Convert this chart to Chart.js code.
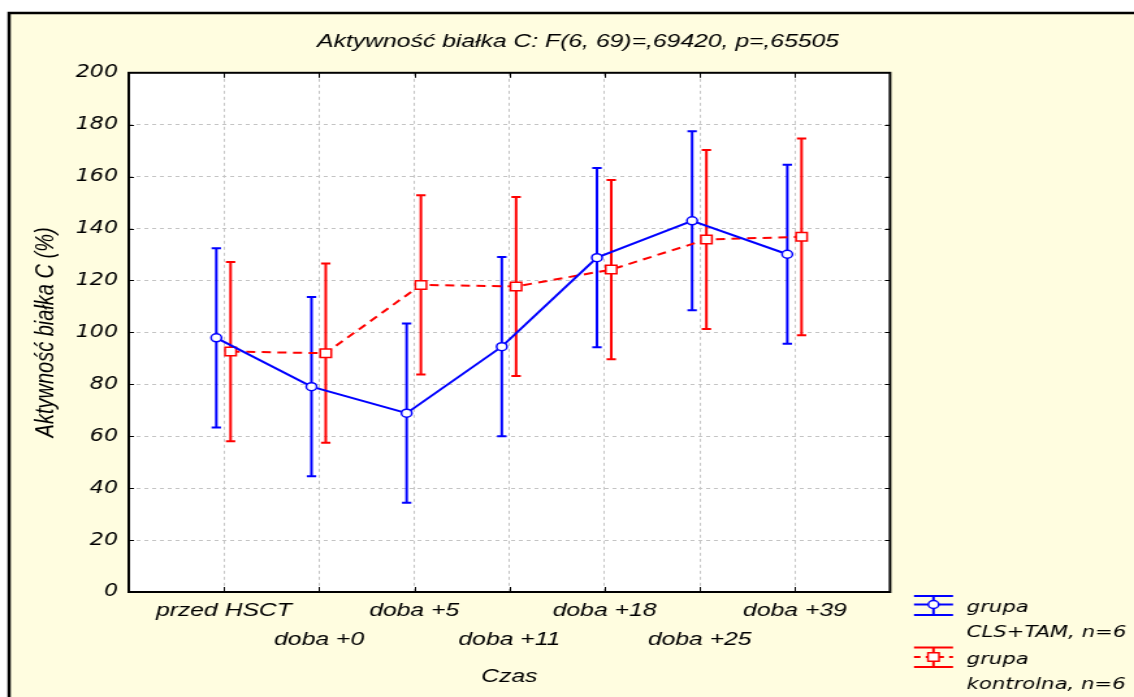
<!DOCTYPE html>
<html><head><meta charset="utf-8">
<script src="https://cdn.jsdelivr.net/npm/chart.js@4.4.1/dist/chart.umd.min.js"></script>
<style>
html,body{margin:0;padding:0;background:#fff;overflow:hidden;width:1134px;height:697px;}
#wrap{width:872px;height:697px;transform:scale(1.3005,1);transform-origin:0 0;}
</style></head><body>
<div id="wrap"><canvas id="c" width="872" height="697"></canvas></div>
<script>
const categories = ['przed HSCT','doba +0','doba +5','doba +11','doba +18','doba +25','doba +39'];
const clsTamMeans = [97.9, 79.1, 68.9, 94.5, 128.8, 143.0, 130.1];
const clsTamErr   = [34.5, 34.5, 34.5, 34.5, 34.5, 34.5, 34.5];
const kontrolnaMeans = [92.6, 92.0, 118.3, 117.7, 124.2, 135.8, 136.8];
const kontrolnaErr   = [34.5, 34.5, 34.5, 34.5, 34.5, 34.5, 37.9];
const seriesLabels = ['grupa CLS+TAM, n=6', 'grupa kontrolna, n=6'];
const chartTitle = 'Aktywność białka C: F(6, 69)=,69420, p=,65505';
const xTitle = 'Czas';
const yTitle = 'Aktywność białka C (%)';
const yMin = 0, yMax = 200, yStep = 20;

const BLUE = '#0000FF', RED = '#FF0000';
const offBlue = -0.08, offRed = 0.07;

function pts(means, off){ return means.map((m,i)=>({x:i+1+off, y:m})); }

const errorBars = {
  id:'errorBars',
  beforeDatasetsDraw(chart){
    const {ctx, scales:{x,y}} = chart;
    chart.data.datasets.forEach((ds)=>{
      ctx.save();
      ctx.strokeStyle = ds.borderColor; ctx.lineWidth = 2; ctx.setLineDash([]);
      ds.data.forEach((p,j)=>{
        const px = x.getPixelForValue(p.x);
        const t = y.getPixelForValue(p.y + ds.errors[j]);
        const b = y.getPixelForValue(p.y - ds.errors[j]);
        ctx.beginPath();
        ctx.moveTo(px,t); ctx.lineTo(px,b);
        ctx.moveTo(px-3.6,t); ctx.lineTo(px+3.6,t);
        ctx.moveTo(px-3.6,b); ctx.lineTo(px+3.6,b);
        ctx.stroke();
      });
      ctx.restore();
    });
  }
};

const frame = {
  id:'frame',
  beforeDraw(chart){
    const {ctx, chartArea:a, width, height} = chart;
    ctx.save();
    ctx.fillStyle = '#ffffff'; ctx.fillRect(0,0,width,height);
    ctx.fillStyle = '#FFFDE0'; ctx.fillRect(7,13,width,height);
    ctx.strokeStyle = '#000'; ctx.lineWidth = 2.5;
    ctx.strokeRect(7,13,width+20,height+20);
    ctx.fillStyle = '#ffffff'; ctx.fillRect(a.left,a.top,a.right-a.left,a.bottom-a.top);
    ctx.restore();
  },
  afterDraw(chart){
    const {ctx, chartArea:a, scales:{x,y}} = chart;
    ctx.save();
    ctx.strokeStyle = '#000'; ctx.lineWidth = 2; ctx.setLineDash([]);
    ctx.strokeRect(a.left,a.top,a.right-a.left,a.bottom-a.top);
    ctx.lineWidth = 1;
    ctx.beginPath();
    for (let i=1;i<=categories.length;i++){
      const px = Math.round(x.getPixelForValue(i))+0.5;
      ctx.moveTo(px,a.top); ctx.lineTo(px,a.top+5);
      ctx.moveTo(px,a.bottom); ctx.lineTo(px,a.bottom-5);
    }
    for (let v=yMin+yStep; v<yMax; v+=yStep){
      const py = Math.round(y.getPixelForValue(v))+0.5;
      ctx.moveTo(a.left,py); ctx.lineTo(a.left+4,py);
      ctx.moveTo(a.right,py); ctx.lineTo(a.right-4,py);
    }
    ctx.stroke();
    // legend
    const lx0 = 702.8, lx1 = 732.8, lc = (lx0+lx1)/2, tx = 743.3;
    ctx.font = 'italic 16.3px "DejaVu Sans"';
    ctx.fillStyle = '#000'; ctx.textBaseline = 'middle'; ctx.textAlign = 'left';
    const items = [
      {ds: chart.data.datasets[0], top:596, mid:604.5, bot:615, t1:608, t2:633},
      {ds: chart.data.datasets[1], top:647.5, mid:657, bot:667, t1:660, t2:685}
    ];
    items.forEach(it=>{
      const ds = it.ds;
      ctx.strokeStyle = ds.borderColor; ctx.lineWidth = 2; ctx.setLineDash([]);
      ctx.beginPath();
      ctx.moveTo(lx0,it.top); ctx.lineTo(lx1,it.top);
      ctx.moveTo(lx0,it.bot); ctx.lineTo(lx1,it.bot);
      ctx.moveTo(lc,it.top); ctx.lineTo(lc,it.bot);
      ctx.stroke();
      ctx.beginPath();
      if (ds.borderDash && ds.borderDash.length) ctx.setLineDash([5,4]);
      ctx.moveTo(lx0,it.mid); ctx.lineTo(lx1,it.mid); ctx.stroke();
      ctx.setLineDash([]);
      ctx.fillStyle = '#fff'; ctx.lineWidth = 1.5;
      ctx.beginPath();
      if (ds.pointStyle === 'rect') {
        const s = Math.SQRT1_2*ds.pointRadius;
        ctx.rect(lc-s,it.mid-s,2*s,2*s);
      } else {
        ctx.arc(lc,it.mid,ds.pointRadius,0,Math.PI*2);
      }
      ctx.fill(); ctx.stroke();
      const sp = ds.label.indexOf(' ');
      ctx.fillStyle = '#000';
      ctx.fillText(ds.label.slice(0,sp), tx, it.t1);
      ctx.fillText(ds.label.slice(sp+1), tx, it.t2);
    });
    ctx.restore();
  }
};

new Chart(document.getElementById('c'), {
  type:'line',
  data:{
    datasets:[
      {label:seriesLabels[0], data:pts(clsTamMeans,offBlue), errors:clsTamErr,
       borderColor:BLUE, backgroundColor:'#fff', borderWidth:2,
       pointStyle:'circle', pointRadius:4, pointBorderWidth:1.5, pointBackgroundColor:'#fff', pointBorderColor:BLUE,
       tension:0, fill:false},
      {label:seriesLabels[1], data:pts(kontrolnaMeans,offRed), errors:kontrolnaErr,
       borderColor:RED, backgroundColor:'#fff', borderWidth:2, borderDash:[7,5],
       pointStyle:'rect', pointRadius:6, pointBorderWidth:1.5, pointBackgroundColor:'#fff', pointBorderColor:RED,
       tension:0, fill:false}
    ]
  },
  options:{
    responsive:false, animation:false, devicePixelRatio:1,
    layout:{padding:{left:17, right:0, top:0, bottom:0}},
    plugins:{
      legend:{display:false},
      tooltip:{enabled:false},
      title:{display:true, text:chartTitle, color:'#000',
        font:{family:'"Liberation Sans", Arial, sans-serif', size:19, style:'italic', weight:'normal'},
        padding:{top:30,bottom:20}}
    },
    scales:{
      x:{type:'linear', min:0, max:categories.length+1,
        afterFit(s){ s.height = 105; },
        grid:{drawTicks:false, lineWidth:1,
          color:(c)=> (c.tick && c.tick.value>0 && c.tick.value<=categories.length) ? '#c4c4c4' : 'rgba(0,0,0,0)'},
        border:{display:false, dash:[3,3]},
        ticks:{stepSize:1, autoSkip:false, maxRotation:0, minRotation:0, padding:4.5, color:'#000',
          font:{family:'"Liberation Sans", Arial, sans-serif', size:19, style:'italic', lineHeight:29/19},
          callback:(v)=>{ const i = v-1; if (!Number.isInteger(v) || i<0 || i>=categories.length) return ''; return i%2===0 ? categories[i] : ['', categories[i]]; }},
        title:{display:true, text:xTitle, color:'#000', padding:{top:0,bottom:8.6},
          font:{family:'"Liberation Sans", Arial, sans-serif', size:19, style:'italic'}}
      },
      y:{min:yMin, max:yMax,
        afterFit(s){ s.width = 82; },
        grid:{drawTicks:false, lineWidth:1,
          color:(c)=> (c.tick && c.tick.value>yMin && c.tick.value<yMax) ? '#c4c4c4' : 'rgba(0,0,0,0)'},
        border:{display:false, dash:[3,3]},
        ticks:{stepSize:yStep, padding:8.3, color:'#000',
          font:{family:'"DejaVu Sans", Verdana, sans-serif', size:17, style:'italic'}},
        title:{display:true, text:yTitle, color:'#000', padding:{top:6,bottom:0},
          font:{family:'"Liberation Sans", Arial, sans-serif', size:20, style:'italic'}}
      },
      legendSpace:{type:'linear', position:'right', display:true,
        afterFit(s){ s.width = 187.6; },
        grid:{display:false, drawTicks:false}, border:{display:false},
        ticks:{display:false}, title:{display:false}}
    }
  },
  plugins:[frame, errorBars]
});
</script>
</body></html>
